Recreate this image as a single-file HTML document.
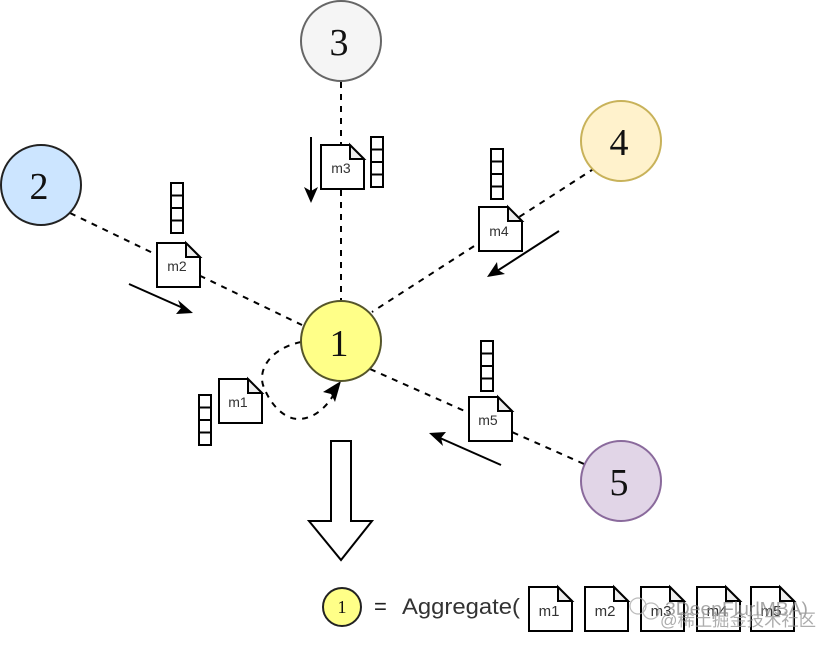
<!DOCTYPE html>
<html><head><meta charset="utf-8"><style>html,body{margin:0;padding:0;background:#fff}svg{display:block}</style></head>
<body>
<svg width="836" height="648" viewBox="0 0 836 648" xmlns="http://www.w3.org/2000/svg">
<defs>
<g id="doc"><path d="M0 0H29L43 14V44H0Z" fill="#fff" stroke="#000" stroke-width="2"/><path d="M29 0V14H43Z" fill="#eee" stroke="#000" stroke-width="2"/></g>
<g id="stack" fill="#fff" stroke="#000" stroke-width="2"><rect x="0" y="0" width="12" height="12.5"/><rect x="0" y="12.5" width="12" height="12.5"/><rect x="0" y="25" width="12" height="12.5"/><rect x="0" y="37.5" width="12" height="12.5"/></g>
</defs>
<g fill="none" stroke="#000" stroke-width="2" stroke-dasharray="6 6">
<line x1="341" y1="82" x2="341" y2="300"/>
<line x1="70" y1="213" x2="302" y2="325"/>
<line x1="595" y1="168" x2="372" y2="312"/>
<line x1="370" y1="369" x2="584" y2="464"/>
<path d="M301 342C272 348 258 368 263 385C270 405 285 420 300 419C314 418 326 408 334 394"/>
</g>
<path d="M341 381L323 392L331 394L335 402Z" fill="#000"/>
<g font-family="'Liberation Serif',serif" font-size="38" fill="#111" text-anchor="middle">
<circle cx="341" cy="41" r="40" fill="#f5f5f5" stroke="#666" stroke-width="2"/><text x="339" y="55">3</text>
<circle cx="41" cy="185" r="40" fill="#cce5ff" stroke="#222" stroke-width="2"/><text x="39" y="199">2</text>
<circle cx="621" cy="141" r="40" fill="#fff2cc" stroke="#c8b25a" stroke-width="2"/><text x="619" y="155">4</text>
<circle cx="621" cy="481" r="40" fill="#e1d5e7" stroke="#8a6a9c" stroke-width="2"/><text x="619" y="495">5</text>
<circle cx="341" cy="341" r="40" fill="#ffff88" stroke="#55552a" stroke-width="2"/><text x="339" y="356">1</text>
</g>
<use href="#doc" x="157" y="243"/><use href="#doc" x="219" y="379"/><use href="#doc" x="321" y="145"/><use href="#doc" x="479" y="207"/><use href="#doc" x="469" y="397"/>
<use href="#stack" x="171" y="183"/><use href="#stack" x="199" y="395"/><use href="#stack" x="371" y="137"/><use href="#stack" x="491" y="149"/><use href="#stack" x="481" y="341"/>
<g font-family="'Liberation Sans',sans-serif" font-size="14" fill="#333" text-anchor="middle">
<text x="177" y="271">m2</text><text x="238" y="407">m1</text><text x="341" y="173">m3</text><text x="499" y="236">m4</text><text x="488" y="425">m5</text>
</g>
<g stroke="#000" stroke-width="2" fill="none">
<line x1="311" y1="137" x2="311" y2="192"/><line x1="129" y1="284" x2="183" y2="308"/><line x1="559" y1="231" x2="497" y2="271"/><line x1="501" y1="465" x2="440" y2="438"/>
</g>
<g fill="#000">
<path d="M311 203L304 187L311 191L318 187Z"/><path d="M193 313L176 314L181 308L178 300Z"/><path d="M487 277L497 262L498 270L505 274Z"/><path d="M429 433L446 432L441 438L443 446Z"/>
</g>
<path d="M331 441H351V521H372L341 560L309 521H331Z" fill="#fff" stroke="#000" stroke-width="2"/>
<circle cx="342" cy="607" r="19" fill="#ffff88" stroke="#222" stroke-width="2"/>
<text x="342" y="613" font-family="'Liberation Serif',serif" font-size="18" fill="#111" text-anchor="middle">1</text>
<text x="374" y="614" font-family="'Liberation Sans',sans-serif" font-size="22" fill="#222">=</text>
<text x="402" y="614" font-family="'Liberation Sans',sans-serif" font-size="22" fill="#333" textLength="118" lengthAdjust="spacingAndGlyphs">Aggregate(</text>
<use href="#doc" x="529" y="587"/><use href="#doc" x="585" y="587"/><use href="#doc" x="641" y="587"/><use href="#doc" x="697" y="587"/><use href="#doc" x="751" y="587"/>
<g font-family="'Liberation Sans',sans-serif" font-size="15" fill="#333" text-anchor="middle">
<text x="549" y="616">m1</text><text x="605" y="616">m2</text><text x="661" y="616">m3</text><text x="717" y="616">m4</text><text x="771" y="616">m5</text>
</g>
<text x="665" y="615" font-family="'Liberation Sans',sans-serif" font-size="18" fill="#888" opacity=".75" textLength="143" lengthAdjust="spacingAndGlyphs">3DeepFlurlMBA)</text>
<text x="660" y="626" font-family="'Liberation Sans','Noto Sans CJK SC',sans-serif" font-size="17" fill="#999" opacity=".8" textLength="156" lengthAdjust="spacingAndGlyphs">@稀土掘金技术社区</text>
<g fill="none" stroke="#aaa" stroke-width="1.2" opacity=".8"><circle cx="638" cy="606" r="8"/><circle cx="651" cy="611" r="8"/></g>
</svg>
</body></html>
